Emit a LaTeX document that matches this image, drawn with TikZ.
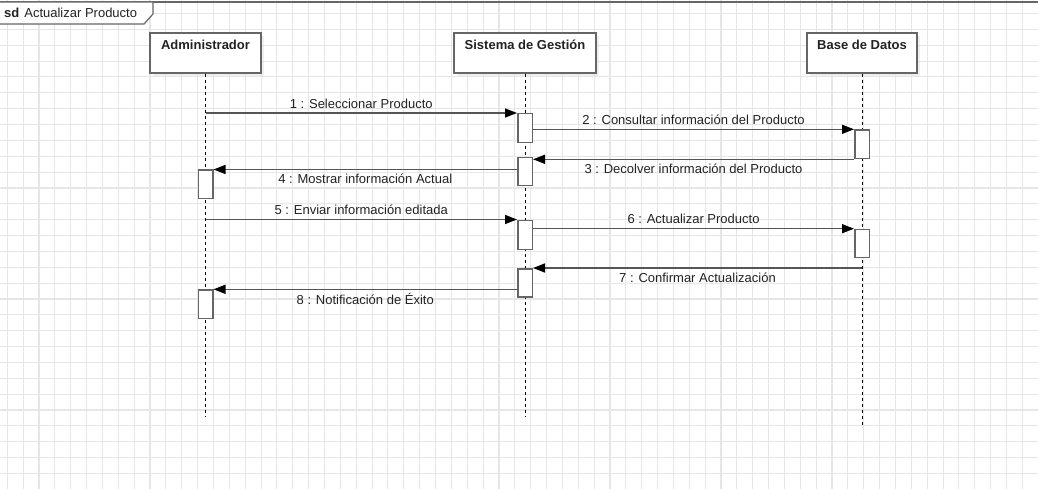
\documentclass[tikz,border=0pt]{standalone}
\usepackage{fontspec}
\setmainfont{Liberation Sans}
\usepackage{tikz}
\usetikzlibrary{arrows.meta,positioning,shadows}
\definecolor{gridGray}{RGB}{230,230,230}
\definecolor{lineGray}{RGB}{102,102,102}
\definecolor{msgGray}{RGB}{85,85,85}
\definecolor{txtInk}{RGB}{34,34,34}

\begin{document}
\begin{tikzpicture}[x=1pt,y=-1pt,font=\fontsize{13}{15}\selectfont,
        gridln/.style={gridGray,line width=1.1pt},
        head/.style={rectangle,draw=lineGray,line width=1.5pt,fill=white,
                     minimum height=40pt,inner sep=0pt,text height=17pt,
                     text depth=23pt,font=\fontsize{13}{15}\bfseries,
                     text=txtInk,
                     drop shadow={shadow xshift=3pt,shadow yshift=-3pt,
                                  fill=black!12}},
        bar/.style={rectangle,draw=lineGray,line width=1.5pt,fill=white,
                    minimum width=14.5pt,inner sep=0pt,anchor=north},
        life/.style={black,line width=0.9pt,dash pattern=on 3pt off 3pt},
        msg/.style={-{Triangle[length=12pt,width=9pt,color=black]},msgGray,
                    line width=1.5pt},
        msgup/.style={midway,yshift=9.5pt,text=txtInk,inner sep=0pt},
        msgdn/.style={midway,yshift=-9.5pt,text=txtInk,inner sep=0pt}]
        \useasboundingbox (0,0) rectangle (1038,489);
        \fill[white] (0,0) rectangle (1038,489);
        % grid
        \foreach \i in {0,...,65}
          \draw[gridln] ({7.3+15.86*\i},0) -- ({7.3+15.86*\i},489);
        \foreach \j in {0,...,30}
          \draw[gridln] (0,{13.5+15.86*\j}) -- (1038,{13.5+15.86*\j});
        % frame
        \draw[lineGray,line width=1.5pt] (0,2) -- (1038,2);
        \draw[lineGray,line width=1.2pt,fill=white]
          (-1,2) -- (153,2) -- (153,14) -- (144,24) -- (-1,24) -- cycle;
        \node[anchor=west,text=txtInk,inner sep=0pt] (sd) at (4,12.5)
          {\textbf{sd}\hspace{5pt}Actualizar Producto};
        % lifelines
        \foreach \n/\x/\w/\t/\e in {adm/205.5/111/Administrador/416,
                                   sis/525/142/{Sistema de Gesti\'on}/416,
                                   bd/862/110/{Base de Datos}/425}{
          \node[head,minimum width=\w pt] (\n) at (\x,53) {\t};
          \coordinate (\n E) at (\x,\e);
          \draw[life] (\n.south) -- (\n E);
        }
        % activations
        \foreach \n/\l/\y/\h in {s1/sis/113/29,s2/sis/157/28,s3/sis/219.5/29,
                                s4/sis/268/28,a1/adm/169.5/28.5,
                                a2/adm/289.3/28.5,b1/bd/129.3/28.5,
                                b2/bd/228.7/28}
          \node[bar,minimum height=\h pt] (\n) at (\l.south |- 0,\y) {};
        % messages
        \draw[msg] (adm.south |- s1.north) -- (s1.north west)
          node[msgup] (m1) {1 : Seleccionar Producto};
        \draw[msg] (s1.east |- b1.north) -- (b1.north west)
          node[msgup] (m2) {2 : Consultar informaci\'on del Producto};
        \draw[msg] (b1.south west) -- (s2.east |- b1.south)
          node[msgdn] (m3) {3 : Decolver informaci\'on del Producto};
        \draw[msg] (s2.west |- a1.north) -- (a1.north east)
          node[msgdn] (m4) {4 : Mostrar informaci\'on Actual};
        \draw[msg] (adm.south |- s3.north) -- (s3.north west)
          node[msgup] (m5) {5 : Enviar informaci\'on editada};
        \draw[msg] (s3.east |- b2.north) -- (b2.north west)
          node[msgup] (m6) {6 : Actualizar Producto};
        \draw[msg] (bd.south |- s4.north) -- (s4.north east)
          node[msgdn] (m7) {7 : Confirmar Actualizaci\'on};
        \draw[msg] (s4.west |- a2.north) -- (a2.north east)
          node[msgdn] (m8) {8 : Notificaci\'on de \'Exito};
\end{tikzpicture}
\end{document}
